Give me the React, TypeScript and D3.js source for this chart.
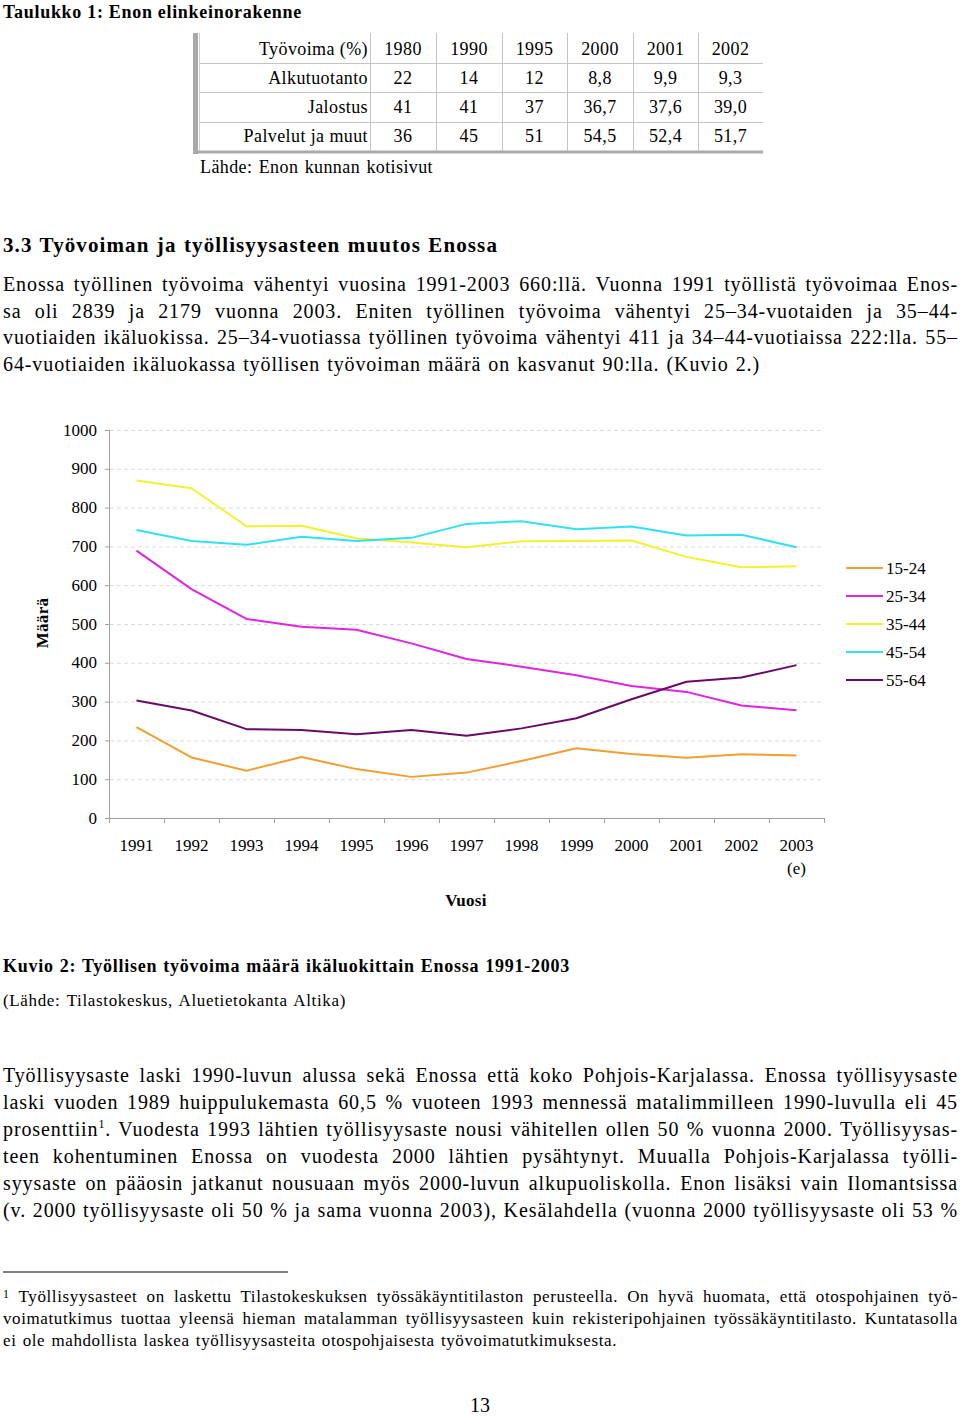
import React, { useLayoutEffect, useRef } from "react";
import * as d3 from "d3";

// ---------- Table data ----------
const tableYears = ["1980", "1990", "1995", "2000", "2001", "2002"];
const tableHeader = "Työvoima (%)";
const tableRowLabels = ["Alkutuotanto", "Jalostus", "Palvelut ja muut"];
const rowAlkutuotanto = ["22", "14", "12", "8,8", "9,9", "9,3"];
const rowJalostus = ["41", "41", "37", "36,7", "37,6", "39,0"];
const rowPalvelut = ["36", "45", "51", "54,5", "52,4", "51,7"];

// ---------- Chart data ----------
const years = ["1991", "1992", "1993", "1994", "1995", "1996", "1997", "1998", "1999", "2000", "2001", "2002", "2003"];
const yTicks = [0, 100, 200, 300, 400, 500, 600, 700, 800, 900, 1000];
const seriesNames = ["15-24", "25-34", "35-44", "45-54", "55-64"];
const seriesColors = ["#F0A030", "#E024E0", "#F2F22C", "#30E2F0", "#6A0A68"];
const s1524 = [234, 156, 122, 157, 126, 106, 117, 147, 180, 165, 155, 164, 161];
const s2534 = [689, 590, 513, 493, 485, 450, 410, 390, 368, 340, 325, 290, 278];
const s3544 = [870, 850, 752, 753, 721, 710, 698, 713, 714, 715, 673, 646, 649];
const s4554 = [742, 714, 704, 725, 714, 722, 758, 765, 744, 751, 728, 730, 698];
const s5564 = [303, 277, 229, 227, 216, 227, 212, 231, 257, 306, 351, 362, 394];
const allSeries = [s1524, s2534, s3544, s4554, s5564];

// ---------- Page texts ----------
const titleTable = "Taulukko 1: Enon elinkeinorakenne";
const tableSource = "Lähde: Enon kunnan kotisivut";
const heading = "3.3 Työvoiman ja työllisyysasteen muutos Enossa";
const para1 = [
  "Enossa työllinen työvoima vähentyi vuosina 1991-2003 660:llä. Vuonna 1991 työllistä työvoimaa Enos-",
  "sa oli 2839 ja 2179 vuonna 2003. Eniten työllinen työvoima vähentyi 25–34-vuotaiden ja 35–44-",
  "vuotiaiden ikäluokissa. 25–34-vuotiassa työllinen työvoima vähentyi 411 ja 34–44-vuotiaissa 222:lla. 55–",
  "64-vuotiaiden ikäluokassa työllisen työvoiman määrä on kasvanut 90:lla. (Kuvio 2.)",
];
const para1Widths = [955, 955, 955, 757];
const caption = "Kuvio 2: Työllisen työvoima määrä ikäluokittain Enossa 1991-2003";
const captionSource = "(Lähde: Tilastokeskus, Aluetietokanta Altika)";
const para2 = [
  "Työllisyysaste laski 1990-luvun alussa sekä Enossa että koko Pohjois-Karjalassa. Enossa työllisyysaste",
  "laski vuoden 1989 huippulukemasta 60,5 % vuoteen 1993 mennessä matalimmilleen 1990-luvulla eli 45",
  "prosenttiin|1|. Vuodesta 1993 lähtien työllisyysaste nousi vähitellen ollen 50 % vuonna 2000. Työllisyysas-",
  "teen kohentuminen Enossa on vuodesta 2000 lähtien pysähtynyt. Muualla Pohjois-Karjalassa työlli-",
  "syysaste on pääosin jatkanut nousuaan myös 2000-luvun alkupuoliskolla. Enon lisäksi vain Ilomantsissa",
  "(v. 2000 työllisyysaste oli 50 % ja sama vuonna 2003), Kesälahdella (vuonna 2000 työllisyysaste oli 53 %",
];
const footnote = [
  "|1| Työllisyysasteet on laskettu Tilastokeskuksen työssäkäyntitilaston perusteella. On hyvä huomata, että otospohjainen työ-",
  "voimatutkimus tuottaa yleensä hieman matalamman työllisyysasteen kuin rekisteripohjainen työssäkäyntitilasto. Kuntatasolla",
  "ei ole mahdollista laskea työllisyysasteita otospohjaisesta työvoimatutkimuksesta.",
];
const footnoteWidths = [955, 955, 614];
const pageNumber = "13";

const FONT = "'Liberation Serif', 'Times New Roman', serif";

// Text fitted to a target width by adjusting word spacing (like Word's justification)
function FitText(props: {
  x: number; y: number; width: number; size: number; bold?: boolean; text: string;
  supSize?: number; supDy?: number; ls?: number;
}) {
  const ref = useRef<SVGTextElement>(null);
  useLayoutEffect(() => {
    const el = ref.current;
    if (!el) return;
    el.style.wordSpacing = "0px";
    el.removeAttribute("textLength");
    const natural = el.getComputedTextLength();
    const spaces = (el.textContent || "").split(" ").length - 1;
    if (spaces > 0) {
      const ws = (props.width - natural) / spaces;
      el.style.wordSpacing = ws + "px";
      const after = el.getComputedTextLength();
      if (Math.abs(after - props.width) > 3) {
        el.style.wordSpacing = "0px";
        el.setAttribute("textLength", String(props.width));
        el.setAttribute("lengthAdjust", "spacing");
      }
    }
  }, [props.text, props.width]);
  const parts = props.text.split("|");
  const supDy = props.supDy ?? 7;
  return (
    <text ref={ref} x={props.x} y={props.y} fontSize={props.size} fontWeight={props.bold ? "bold" : "normal"}
      fontFamily={FONT} fill="#000" letterSpacing={props.ls ?? 0} style={{ whiteSpace: "pre" }}>
      {parts.map((p, i) =>
        i % 2 === 1 ? (
          <tspan key={i} fontSize={props.supSize ?? 12} dy={-supDy}>{p}</tspan>
        ) : (
          <tspan key={i} dy={i > 0 ? supDy : 0}>{p}</tspan>
        )
      )}
    </text>
  );
}

function Table() {
  const colEdges = [370, 436, 502, 567, 633, 698, 763];
  const rowLines = [63, 92, 122];
  const rowBaselines = [55, 84, 113, 142];
  const rows = [rowAlkutuotanto, rowJalostus, rowPalvelut];
  const top = 33;
  const bottom = 151;
  return (
    <g fontFamily={FONT} fontSize={18} fill="#000" letterSpacing={0.4}>
      {rowLines.map((ly) => (
        <line key={ly} x1={200} x2={763} y1={ly + 0.5} y2={ly + 0.5} stroke="#c4c4c4" strokeWidth={1} />
      ))}
      {colEdges.slice(0, 6).map((cx) => (
        <line key={cx} x1={cx + 0.5} x2={cx + 0.5} y1={top} y2={bottom} stroke="#c4c4c4" strokeWidth={1} />
      ))}
      <rect x={193} y={top} width={5} height={bottom - top + 3} fill="#a9a9a9" />
      <line x1={199.5} x2={199.5} y1={top} y2={bottom} stroke="#cfcfcf" strokeWidth={1} />
      <rect x={193} y={bottom - 0.5} width={763 - 193} height={3} fill="#a9a9a9" />
      <text x={368} y={rowBaselines[0]} textAnchor="end">{tableHeader}</text>
      {tableYears.map((yr, i) => (
        <text key={yr} x={(colEdges[i] + colEdges[i + 1]) / 2} y={rowBaselines[0]} textAnchor="middle">{yr}</text>
      ))}
      {tableRowLabels.map((lab, r) => (
        <g key={lab}>
          <text x={368} y={rowBaselines[r + 1]} textAnchor="end">{lab}</text>
          {rows[r].map((v, i) => (
            <text key={i} x={(colEdges[i] + colEdges[i + 1]) / 2} y={rowBaselines[r + 1]} textAnchor="middle">{v}</text>
          ))}
        </g>
      ))}
    </g>
  );
}

function Chart() {
  const x = d3.scaleBand<string>().domain(years).range([109, 824]);
  const xc = (yr: string) => (x(yr) as number) + x.bandwidth() / 2;
  const y = d3.scaleLinear().domain([0, 1000]).range([818, 430]);
  const line = d3
    .line<number>()
    .x((_, i) => xc(years[i]))
    .y((d) => y(d));
  const boundaries = years.map((yr) => x(yr) as number).concat([824]);
  return (
    <g fontFamily={FONT} fill="#000">
      {yTicks.filter((t) => t > 0).map((t) => (
        <line key={t} x1={110} x2={824} y1={y(t) + 0.5} y2={y(t) + 0.5} stroke="#dcdcdc" strokeWidth={1} strokeDasharray="4,3" />
      ))}
      <line x1={109.5} x2={109.5} y1={y(1000)} y2={y(0)} stroke="#a0a0a0" strokeWidth={1} />
      <line x1={109} x2={824} y1={y(0) + 0.5} y2={y(0) + 0.5} stroke="#a0a0a0" strokeWidth={1} />
      {yTicks.map((t) => (
        <g key={t}>
          <line x1={105} x2={109} y1={y(t) + 0.5} y2={y(t) + 0.5} stroke="#a0a0a0" strokeWidth={1} />
          <text x={97} y={y(t) + 5.5} fontSize={17} textAnchor="end">{t}</text>
        </g>
      ))}
      {boundaries.map((bx, i) => (
        <line key={i} x1={bx + 0.5} x2={bx + 0.5} y1={y(0)} y2={y(0) + 5} stroke="#a0a0a0" strokeWidth={1} />
      ))}
      {years.map((yr) => (
        <text key={yr} x={xc(yr)} y={851} fontSize={17} textAnchor="middle">{yr}</text>
      ))}
      <text x={xc("2003")} y={874} fontSize={17} textAnchor="middle">(e)</text>
      <text x={466} y={906} fontSize={17} fontWeight="bold" textAnchor="middle" letterSpacing={0.3}>Vuosi</text>
      <text transform="translate(48,623) rotate(-90)" fontSize={17} fontWeight="bold" textAnchor="middle" letterSpacing={0.3}>Määrä</text>
      {allSeries.map((s, i) => (
        <path key={i} d={line(s) as string} fill="none" stroke={seriesColors[i]} strokeWidth={2} strokeLinejoin="round" />
      ))}
      {seriesNames.map((n, i) => (
        <g key={n}>
          <line x1={846} x2={883} y1={568 + i * 28} y2={568 + i * 28} stroke={seriesColors[i]} strokeWidth={2} />
          <text x={886} y={568 + i * 28 + 5.5} fontSize={17}>{n}</text>
        </g>
      ))}
    </g>
  );
}

export default function App() {
  return (
    <svg width={960} height={1417} viewBox="0 0 960 1417"
      style={{ position: "absolute", left: 0, top: 0, background: "#fff" }}>
      <rect x={0} y={0} width={960} height={1417} fill="#fff" />
      <FitText x={3} y={18} width={299} size={18} bold ls={0.7} text={titleTable} />
      <Table />
      <FitText x={200} y={173} width={233} size={18} ls={0.4} text={tableSource} />
      <FitText x={3} y={252} width={495} size={21} bold ls={1.1} text={heading} />
      {para1.map((l, i) => (
        <FitText key={i} x={3} y={291 + i * 26.5} width={para1Widths[i]} size={20} ls={0.9} text={l} />
      ))}
      <Chart />
      <FitText x={3} y={972} width={567} size={18} bold ls={0.75} text={caption} />
      <FitText x={3} y={1006} width={343} size={17} ls={0.65} text={captionSource} />
      {para2.map((l, i) => (
        <FitText key={i} x={3} y={1082 + i * 26.9} width={955} size={20} ls={0.9} text={l} supSize={12} supDy={8} />
      ))}
      <line x1={3} x2={288} y1={1272} y2={1272} stroke="#000" strokeWidth={1} />
      {footnote.map((l, i) => (
        <FitText key={i} x={3} y={1302 + i * 22.2} width={footnoteWidths[i]} size={17} ls={0.6} text={l} supSize={12} supDy={4} />
      ))}
      <text x={480} y={1412} fontSize={20} fontFamily={FONT} textAnchor="middle">{pageNumber}</text>
    </svg>
  );
}
